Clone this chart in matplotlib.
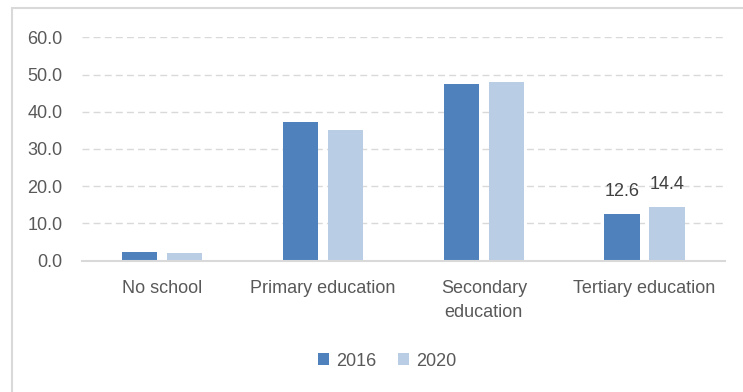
import numpy as np
import matplotlib.pyplot as plt
from matplotlib.patches import Rectangle

plt.rcParams["font.family"] = ["Liberation Sans", "DejaVu Sans"]
fs = 13

categories = ["No school", "Primary education", "Secondary\neducation", "Tertiary education"]
series_2016 = [2.4, 37.3, 47.4, 12.6]
series_2020 = [2.1, 35.1, 48.0, 14.4]
yticks = [0, 10, 20, 30, 40, 50, 60]

c2016 = "#4f81bd"
c2020 = "#b9cde5"
text_col = "#595959"
grid_col = "#d9d9d9"

fig = plt.figure(figsize=(7.43, 3.92), dpi=100)
ax = fig.add_axes([0.11, 0.335, 0.8658, 0.5698])

# outer chart frame (only top and left edges fall inside the image)
fig.patches.append(Rectangle((11.5 / 743, -0.1), 1.2, 1 - 8.5 / 392 + 0.1,
                             transform=fig.transFigure, fill=False,
                             edgecolor=grid_col, linewidth=1.5))

x = np.arange(len(categories))
w = 0.22
off = 0.14
b1 = ax.bar(x - off, series_2016, w, color=c2016, label="2016", zorder=3)
b2 = ax.bar(x + off, series_2020, w, color=c2020, label="2020", zorder=3)

# value labels on the tertiary group only
for bars, vals in ((b1, series_2016), (b2, series_2020)):
    bar = bars[3]
    ax.annotate(f"{vals[3]:.1f}", (bar.get_x() + bar.get_width() / 2, vals[3]),
                xytext=(0, 10), textcoords="offset points", ha="center", va="bottom",
                fontsize=fs, color="#404040")

ax.set_xlim(-0.5, len(categories) - 0.5)
ax.set_ylim(0, 60)
ax.set_yticks(yticks)
ax.set_yticklabels([f"{v:.1f}" for v in yticks])
ax.set_xticks(x)
ax.set_xticklabels(categories, linespacing=1.55)
ax.tick_params(axis="both", length=0, labelsize=fs, labelcolor=text_col)
ax.tick_params(axis="y", pad=14)
ax.tick_params(axis="x", pad=14)

ax.yaxis.grid(True, color=grid_col, linestyle=(0, (5, 3)), linewidth=1, zorder=0)
ax.set_axisbelow(True)
for s in ("top", "right", "left"):
    ax.spines[s].set_visible(False)
ax.spines["bottom"].set_color(grid_col)
ax.spines["bottom"].set_linewidth(1.5)
ax.spines["bottom"].set_zorder(4)

fig.legend(handles=[b1, b2], loc="center", bbox_to_anchor=(387 / 743, 1 - 361 / 392),
           ncol=2, frameon=False, fontsize=fs, labelcolor=text_col,
           handlelength=0.6, handleheight=0.6, handletextpad=0.4, columnspacing=1.2)

fig.savefig("out.png", dpi=100)
